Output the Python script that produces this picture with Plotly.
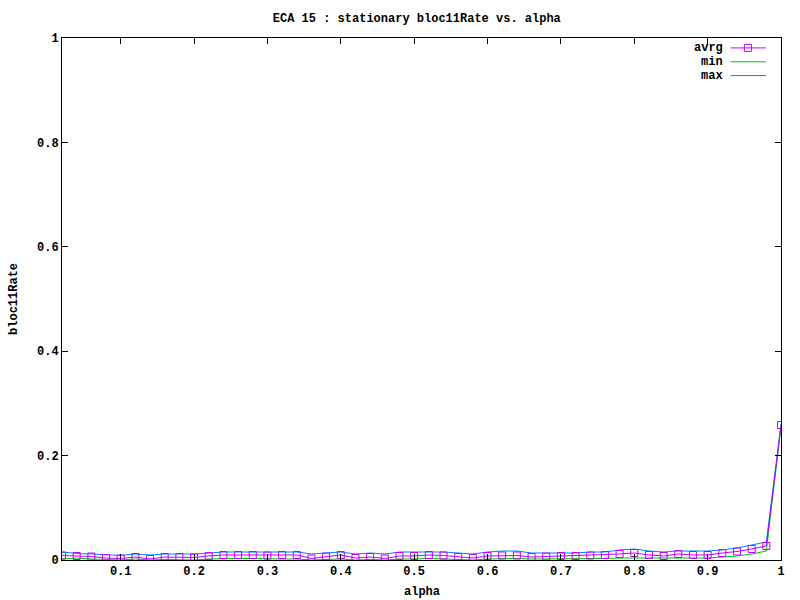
import plotly.graph_objects as go

alpha = [round(0.02 * i, 2) for i in range(1, 51)]

avrg_px = [4.5, 4, 3.5, 2, 1.5, 3, 1, 3, 3, 2.5,
           4, 5, 5, 5, 4.5, 5, 5, 1.5, 3.5, 5,
           2, 3, 1.5, 4, 4, 5, 4.5, 3, 2, 4,
           4.5, 4.5, 3, 3.5, 4, 4, 4.5, 5, 6, 7,
           5, 4, 6, 5, 5, 7, 8.5, 11, 14, 135]
min_px = [1, 2, 1, 0.5, 0, 1, 0, 0.5, 0.5, 0,
          1, 1.5, 1.5, 1.5, 1, 1, 1, 0, 0.5, 1,
          0, 0.5, 0, 1, 1, 1.5, 1, 0.5, 0, 1,
          1.5, 1.5, 1, 1, 1, 1, 1.5, 1.5, 2, 2,
          1.5, 1.5, 2, 2, 2, 3, 4, 6, 9, 133]
max_px = [8, 6.5, 6, 5, 4.5, 6, 5, 6, 6, 6,
          7, 8, 8, 8, 8, 8, 8, 6, 7, 8,
          6, 7, 6, 8, 8, 8, 8, 7, 6, 8,
          9, 9, 7, 7, 7, 7, 8, 8, 10, 11,
          9, 8, 9, 9, 9, 10, 12, 15, 18, 136]

scale = 1 / 522.0
avrg = [round(v * scale, 4) for v in avrg_px]
vmin = [round(v * scale, 4) for v in min_px]
vmax = [round(v * scale, 4) for v in max_px]

FONT = "Liberation Mono"

fig = go.Figure()
fig.add_trace(go.Scatter(x=alpha, y=vmin, mode="lines", name="min",
                         line=dict(color="#00c000", width=1)))
fig.add_trace(go.Scatter(x=alpha, y=vmax, mode="lines", name="max",
                         line=dict(color="#0080ff", width=1)))
fig.add_trace(go.Scatter(x=alpha, y=avrg, mode="lines+markers", name="avrg",
                         line=dict(color="#c000ff", width=1),
                         marker=dict(symbol="square-open", size=7,
                                     color="#c000ff", line=dict(width=1))))

# gnuplot-style legend (text right-aligned, sample to the right)
legend_items = [("avrg", "#c000ff", True), ("min", "#00c000", False), ("max", "#0080ff", False)]
for i, (name, col, mk) in enumerate(legend_items):
    yp = 0.981 - i * 0.0265
    fig.add_annotation(xref="paper", yref="paper", x=0.9215, y=yp, text="<b>" + name + "</b>",
                       showarrow=False, xanchor="right", yanchor="middle",
                       font=dict(family=FONT, size=12, color="black"))
    fig.add_shape(type="line", xref="paper", yref="paper", x0=0.930, x1=0.979, y0=yp, y1=yp,
                  line=dict(color=col, width=1))
    if mk:
        fig.add_shape(type="rect", xref="paper", yref="paper",
                      x0=0.954 - 0.0049, x1=0.954 + 0.0049, y0=yp - 0.0067, y1=yp + 0.0067,
                      line=dict(color=col, width=1))

# axis titles
fig.add_annotation(xref="paper", yref="paper", x=0.5, y=-0.0613, text="<b>alpha</b>",
                   showarrow=False, xanchor="center", yanchor="middle",
                   font=dict(family=FONT, size=12, color="black"))
fig.add_annotation(xref="paper", yref="paper", x=-0.0668, y=0.5, text="<b>bloc11Rate</b>",
                   showarrow=False, xanchor="center", yanchor="middle", textangle=-90,
                   font=dict(family=FONT, size=12, color="black"))

fig.update_layout(
    width=800, height=600,
    margin=dict(l=62, r=19, t=38, b=40),
    paper_bgcolor="white", plot_bgcolor="white",
    showlegend=False,
    title=dict(text="<b>ECA 15 : stationary bloc11Rate vs. alpha</b>", x=0.521, xanchor="center",
               y=0.97, yanchor="middle", font=dict(family=FONT, size=12, color="black")),
    font=dict(family=FONT, size=12, color="black"),
)
fig.update_xaxes(range=[0.02, 1.0], tickvals=[0.1, 0.2, 0.3, 0.4, 0.5, 0.6, 0.7, 0.8, 0.9, 1.0],
                 ticktext=["<b>0.1</b>", "<b>0.2</b>", "<b>0.3</b>", "<b>0.4</b>", "<b>0.5</b>",
                           "<b>0.6</b>", "<b>0.7</b>", "<b>0.8</b>", "<b>0.9</b>", "<b>1</b>"],
                 ticks="inside", ticklen=6, tickcolor="black", showline=True, linecolor="black",
                 linewidth=1, mirror="ticks", showgrid=False, zeroline=False, automargin=False)
fig.update_yaxes(range=[0, 1], tickvals=[0, 0.2, 0.4, 0.6, 0.8, 1.0],
                 ticktext=["<b>0</b>", "<b>0.2</b>", "<b>0.4</b>", "<b>0.6</b>", "<b>0.8</b>", "<b>1</b>"],
                 ticks="inside", ticklen=6, tickcolor="black", showline=True, linecolor="black",
                 linewidth=1, mirror="ticks", showgrid=False, zeroline=False, automargin=False)

fig.write_html("out.html", config={"displayModeBar": False},
               post_script="document.body.style.margin='0';")
